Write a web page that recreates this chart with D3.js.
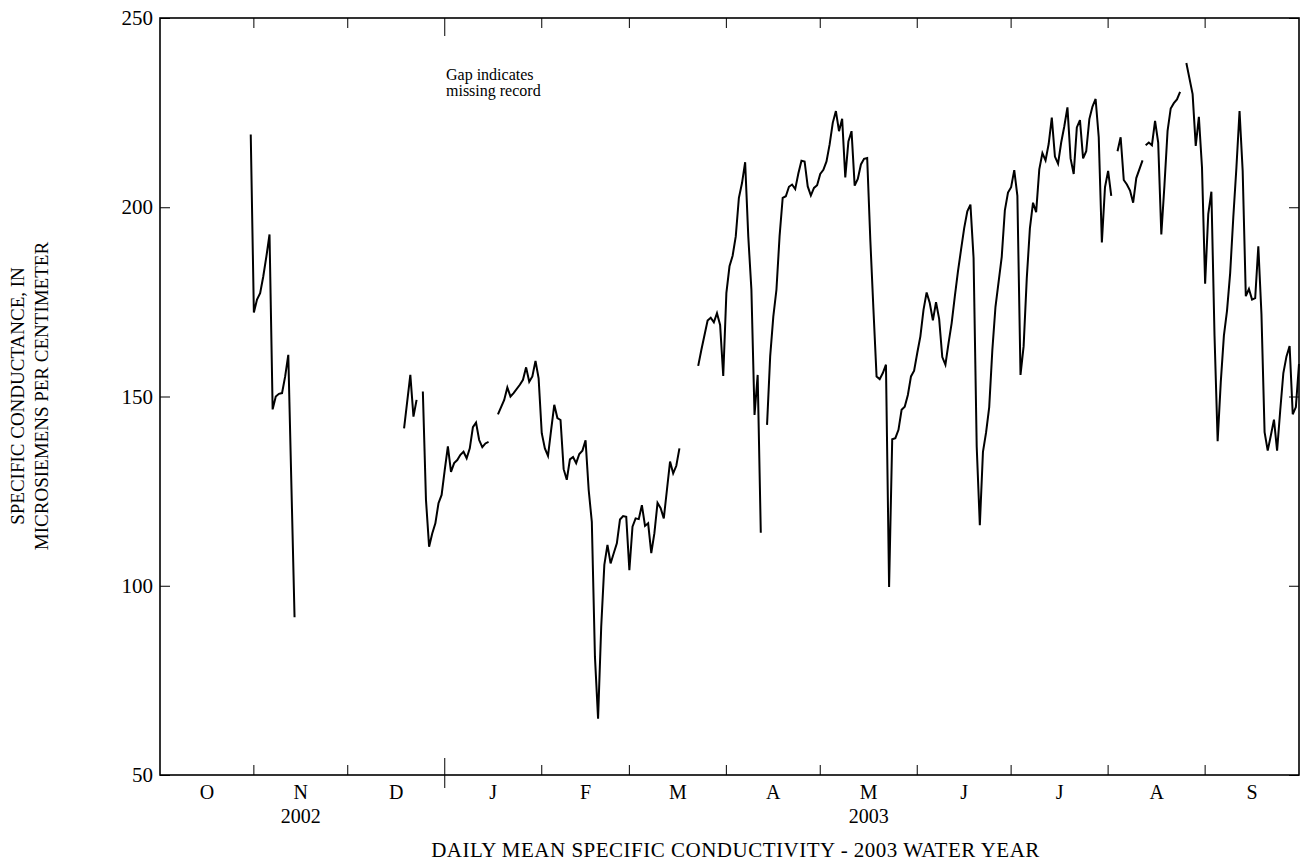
<!DOCTYPE html>
<html>
<head>
<meta charset="utf-8">
<title>Daily mean specific conductivity - 2003 water year</title>
<style>
  body { margin: 0; background: #fff; }
  svg text { font-family: "Liberation Serif", "Times New Roman", serif; fill: #000; }
  .frame { fill: none; stroke: #000; stroke-width: 1.6px; }
  .tick-line { stroke: #000; stroke-width: 1px; }
  .record { fill: none; stroke: #000; stroke-width: 2px; stroke-linejoin: miter; }
</style>
<script src="https://cdn.jsdelivr.net/npm/d3@7"></script>
</head>
<body>
<svg id="chart" width="1301" height="865"></svg>
<script>
// month labels of the water year and days in each month
var monthLabels = ["O", "N", "D", "J", "F", "M", "A", "M", "J", "J", "A", "S"];
var monthDays = [31, 30, 31, 31, 28, 31, 30, 31, 30, 31, 31, 30];
// calendar years written under November and May
var yearLabels = [{ month: 1, text: "2002" }, { month: 7, text: "2003" }];
var yTicks = [50, 100, 150, 200, 250];

// daily mean specific conductance, [day of water year, value]; each inner list is
// an unbroken run of record, the breaks between them are missing record
var records = [
  [[30,219.2],[31,172.2],[32,175.6],[33,177.3],[34,181.7],[35,187],[36,192.8],[37,146.6],
   [38,150],[39,150.7],[40,150.9],[41,155.3],[42,161],[44,91.7]],
  [[79,141.6],[81,155.7],[82,144.7],[83,149.1]],
  [[85,151.3],[86,122.7],[87,110.3],[88,113.8],[89,116.5],[90,121.8],[91,124],[92,130.6],
   [93,136.8],[94,130.1],[95,132.4],[96,133.2],[97,134.6],[98,135.4],[99,133.7],[100,136.3],
   [101,141.9],[102,143.1],[103,138.5],[104,136.6],[105,137.6],[106,138]],
  [[109,145.3],[111,149.1],[112,152.4],[113,150],[114,150.9],[116,153.1],[117,154.4],[118,157.7],
   [119,153.9],[120,155.3],[121,159.4],[122,154.8],[123,140.3],[124,136.3],[125,134.3],[126,141.2],
   [127,147.8],[128,144.3],[129,143.8],[130,130.8],[131,128],[132,133.4],[133,134],[134,132.4],
   [135,134.8],[136,135.7],[137,138.4],[138,125.3],[139,116.9],[140,81.2],[141,64.9],[142,89.1],
   [143,105.5],[144,110.8],[145,105.9],[146,108.6],[147,111.2],[148,117.5],[149,118.4],[150,118.2],
   [151,104.1],[152,115.6],[153,117.8],[154,117.6],[155,121.3],[156,115.8],[157,116.5],[158,108.6],
   [159,113.9],[160,121.9],[161,120.5],[162,117.8],[163,125.3],[164,132.8],[165,129.7],[166,131.7],
   [167,136.3]],
  [[173,158.1],[174,162.3],[176,170.1],[177,170.8],[178,169.6],[179,172],[180,168.9],[181,155.4],
   [182,177.3],[183,184.4],[184,187.2],[185,192.3],[186,202.5],[187,206.4],[188,211.9],[189,192.3],
   [190,178.2],[191,145.1],[192,155.7],[193,114]],
  [[195,142.5],[196,160.6],[197,171.1],[198,178.2],[199,192.3],[200,202.5],[201,202.9],[202,205.4],
   [203,206],[204,204.8],[205,208.9],[206,212.3],[207,212.1],[208,205.5],[209,203.1],[210,205.1],
   [211,205.8],[212,208.8],[213,209.9],[214,212.1],[215,216.6],[216,222.3],[217,225.4],[218,220.1],
   [219,223.4],[220,207.9],[221,217.4],[222,220.1],[223,205.7],[224,207.5],[225,211.3],[226,212.8],
   [227,213],[228,191.4],[229,173],[230,155.3],[231,154.6],[232,156.2],[233,158.4],[234,99.7],
   [235,138.7],[236,139],[237,141.2],[238,146.5],[239,147.3],[240,150.4],[241,155.3],[242,156.8],
   [243,161.5],[244,165.9],[245,172.9],[246,177.5],[247,174.7],[248,170.1],[249,174.9],[250,170.5],
   [251,160.4],[252,158.4],[253,164.1],[254,169.4],[255,176.4],[256,183],[257,188.8],[258,194.5],
   [259,198.9],[260,200.7],[261,186.6],[262,136.8],[263,116],[264,135.4],[265,140.5],[266,147.2],
   [267,162.3],[268,173.7],[270,186.9],[271,199.2],[272,203.9],[273,205.3],[274,209.8],[275,203],
   [276,155.7],[277,163.3],[278,181.2],[279,194.4],[280,201.2],[281,198.7],[282,210],[283,214.3],
   [284,212.4],[285,216.7],[286,223.7],[287,213.4],[288,211.5],[289,217.1],[290,221.4],[291,226.4],
   [292,212.9],[293,208.8],[294,221.1],[295,223],[296,212.9],[297,214.8],[298,223.3],[299,226.6],
   [300,228.6],[301,218.5],[302,190.7],[303,205.3],[304,209.6],[305,203]],
  [[307,214.8],[308,218.5],[309,207.2],[310,206],[311,204.4],[312,201.2],[313,207.7],[315,212.4]],
  [[316,216.4],[317,217.1],[318,216.4],[319,222.8],[320,217.1],[321,192.8],[322,205.8],[323,220.2],
   [324,226.1],[325,227.5],[326,228.5],[327,230.5]],
  [[329,238.1],[331,229.9],[332,216.2],[333,223.9],[334,210.5],[335,179.8],[336,198.2],[337,204.1],
   [338,166.1],[339,138.2],[340,153.8],[341,166.1],[342,172.7],[343,182.6],[344,197.3],[345,210.5],
   [346,225.4],[347,209.6],[348,176.5],[349,178.4],[350,175.6],[351,176],[352,189.7],[353,171.8],
   [354,140.6],[355,135.7],[356,139.7],[357,143.9],[358,135.7],[359,146.3],[360,156.2],[361,160.6],
   [362,163.3],[363,145.3],[364,147.2],[365,158.6]]
];

var margin = { top: 18, right: 2, bottom: 90, left: 160 };
var width = 1301 - margin.left - margin.right;
var height = 865 - margin.top - margin.bottom;

var svg = d3.select("#chart");
var g = svg.append("g").attr("transform", "translate(" + margin.left + "," + margin.top + ")");

var x = d3.scaleLinear().domain([1, 365]).range([0, width]);
var y = d3.scaleLinear().domain([50, 250]).range([height, 0]);

// month boundaries (last day of each month)
var monthEnds = d3.cumsum(monthDays);
var bounds = [1].concat(Array.from(monthEnds));

// y axis, ticks pointing into the plot on both sides
var yAxis = g.append("g").call(d3.axisLeft(y).tickValues(yTicks).tickSize(-10).tickPadding(7).tickFormat(d3.format("d")));
yAxis.select(".domain").remove();
yAxis.selectAll("line").attr("class", "tick-line");
yAxis.selectAll("text").style("font-size", "21px").style("font-family", "Liberation Serif");

var yRight = g.append("g").attr("transform", "translate(" + width + ",0)")
  .call(d3.axisRight(y).tickValues(yTicks).tickSize(-10).tickFormat(""));
yRight.select(".domain").remove();
yRight.selectAll("line").attr("class", "tick-line");

// month ticks on the bottom and top, Jan 1 marks the calendar year
var inner = monthEnds.slice(0, 11);
g.selectAll(".mtick-b").data(inner).enter().append("line")
  .attr("class", "tick-line")
  .attr("x1", function(d){ return x(d); }).attr("x2", function(d){ return x(d); })
  .attr("y1", function(d, i){ return i == 2 ? height - 17 : height - 10; })
  .attr("y2", function(d, i){ return i == 2 ? height + 13 : height; });
g.selectAll(".mtick-t").data(inner).enter().append("line")
  .attr("class", "tick-line")
  .attr("x1", function(d){ return x(d); }).attr("x2", function(d){ return x(d); })
  .attr("y1", 0)
  .attr("y2", function(d, i){ return i == 2 ? 18 : 10; });

g.selectAll(".mlabel").data(monthLabels).enter().append("text")
  .attr("x", function(d, i){ return (x(bounds[i]) + x(bounds[i + 1])) / 2; })
  .attr("y", height + 24)
  .attr("text-anchor", "middle")
  .style("font-size", "20px")
  .text(function(d){ return d; });

g.selectAll(".ylabel-yr").data(yearLabels).enter().append("text")
  .attr("x", function(d){ return (x(bounds[d.month]) + x(bounds[d.month + 1])) / 2; })
  .attr("y", height + 48)
  .attr("text-anchor", "middle")
  .style("font-size", "20px")
  .text(function(d){ return d.text; });

// the record, broken at missing days
var line = d3.line()
  .x(function(d){ return x(d[0]); })
  .y(function(d){ return y(d[1]); });
g.selectAll(".record").data(records).enter().append("path")
  .attr("class", "record")
  .attr("d", line);

// frame
g.append("rect").attr("class", "frame")
  .attr("x", 0).attr("y", 0).attr("width", width).attr("height", height);

// annotation
var note = g.append("text").attr("x", 286).attr("y", 62).style("font-size", "16px");
note.append("tspan").attr("x", 286).text("Gap indicates");
note.append("tspan").attr("x", 286).attr("dy", 16).text("missing record");

// titles
svg.append("text")
  .attr("x", margin.left + width / 2 + 6).attr("y", 857)
  .attr("text-anchor", "middle")
  .style("font-size", "21px")
  .style("letter-spacing", "0.5px")
  .text("DAILY MEAN SPECIFIC CONDUCTIVITY - 2003 WATER YEAR");

var yt = svg.append("text")
  .attr("transform", "translate(0,396) rotate(-90)")
  .attr("text-anchor", "middle")
  .style("font-size", "19px");
yt.append("tspan").attr("x", 0).attr("y", 24).text("SPECIFIC CONDUCTANCE, IN");
yt.append("tspan").attr("x", 0).attr("y", 48).text("MICROSIEMENS PER CENTIMETER");
</script>
</body>
</html>
